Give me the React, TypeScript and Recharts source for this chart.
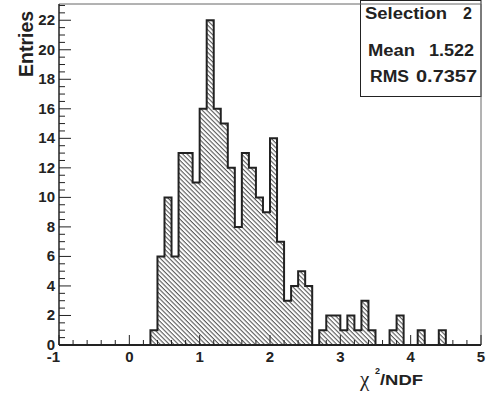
import { ComposedChart, Area, XAxis, YAxis, ReferenceLine, Customized } from 'recharts';

// histogram: 60 bins of width 0.1 from -1 to 5
const binStart = -1;
const binWidth = 0.1;
const counts = [
  0, 0, 0, 0, 0, 0, 0, 0, 0, 0, 0, 0, 0,
  1, 6, 10, 6, 13, 13, 11, 16, 22, 16, 15, 12, 8, 13, 12, 10, 9, 14, 7, 3, 4, 5, 4, 0,
  1, 2, 2, 1, 2, 1, 3, 1, 0, 0, 1, 2, 0, 0, 1, 0, 0, 1,
  0, 0, 0, 0, 0,
];

const xMajorTicks = [-1, 0, 1, 2, 3, 4, 5];
const yMajorTicks = [0, 2, 4, 6, 8, 10, 12, 14, 16, 18, 20, 22];
const xMinorStep = 0.2;
const yMinorStep = 0.5;

const statsTitle = ['Selection', '2'];
const statsMean = ['Mean', '1.522'];
const statsRms = ['RMS', '0.7357'];

const histData = [
  ...counts.map((n, i) => ({ x: +(binStart + i * binWidth).toFixed(1), n })),
  { x: 5, n: 0 },
];

const xTicks = Array.from({ length: 31 }, (_, i) => +(-1 + i * xMinorStep).toFixed(1));
const yTicks = Array.from({ length: 47 }, (_, i) => +(i * yMinorStep).toFixed(1));

const font = '"Liberation Sans", Arial, sans-serif';

const XTick = (props: any) => {
  const { x, y, payload } = props;
  const v = payload.value;
  const major = xMajorTicks.includes(v);
  return (
    <g>
      <line x1={x} x2={x} y1={y} y2={y - (major ? 10 : 5)} stroke="#222" strokeWidth={1} />
      {major && (
        <text
          x={v === -1 ? x + 1 : x}
          y={y + 17}
          textAnchor={v === -1 ? 'end' : 'middle'}
          fontFamily={font}
          fontWeight="bold"
          fontSize={15}
          fill="#222"
        >
          {v}
        </text>
      )}
    </g>
  );
};

const YTick = (props: any) => {
  const { x, y, payload } = props;
  const v = payload.value;
  const major = yMajorTicks.includes(v);
  return (
    <g>
      <line x1={x} x2={x + (major ? 12 : 6)} y1={y} y2={y} stroke="#222" strokeWidth={1} />
      {major && (
        <text x={x - 4} y={y + 5} textAnchor="end" fontFamily={font} fontWeight="bold" fontSize={15} fill="#222">
          {v}
        </text>
      )}
    </g>
  );
};

const Decorations = () => (
  <g fontFamily={font} fontWeight="bold" fill="#222">
    <text x={33} y={77} transform="rotate(-90 33 77)" fontSize={19.5}>
      Entries
    </text>
    <text x={360} y={386} fontFamily='"Liberation Serif", serif' fontWeight="normal" fontSize={21}>
      χ
    </text>
    <text x={375} y={374} fontSize={9}>
      2
    </text>
    <text x={380} y={385} fontSize={15} textLength={43} lengthAdjust="spacingAndGlyphs">
      /NDF
    </text>
    <rect x={360.5} y={0.5} width={120.5} height={96} fill="#fff" stroke="#222" strokeWidth={1} />
    <text x={365} y={18.5} fontSize={16} textLength={82} lengthAdjust="spacingAndGlyphs">
      {statsTitle[0]}
    </text>
    <text x={463} y={18.5} fontSize={16}>
      {statsTitle[1]}
    </text>
    <text x={368} y={55.5} fontSize={16} textLength={47} lengthAdjust="spacingAndGlyphs">
      {statsMean[0]}
    </text>
    <text x={429} y={56} fontSize={16} textLength={45} lengthAdjust="spacingAndGlyphs">
      {statsMean[1]}
    </text>
    <text x={370} y={81.5} fontSize={16} textLength={39} lengthAdjust="spacingAndGlyphs">
      {statsRms[0]}
    </text>
    <text x={416} y={81.5} fontSize={16} textLength={61} lengthAdjust="spacingAndGlyphs">
      {statsRms[1]}
    </text>
  </g>
);

export default function App() {
  return (
    <div style={{ position: 'absolute', left: 0, top: 0, background: '#fff' }}>
      <ComposedChart width={493} height={397} data={histData} margin={{ top: 4, right: 12, bottom: 0, left: 0 }}>
        <defs>
          <pattern id="hatch" patternUnits="userSpaceOnUse" width={3.2} height={3.2} patternTransform="rotate(-45)">
            <line x1={1} y1={0} x2={1} y2={3.2} stroke="#333" strokeWidth={0.9} />
          </pattern>
        </defs>
        <XAxis
          dataKey="x"
          type="number"
          domain={[-1, 5]}
          allowDataOverflow
          ticks={xTicks}
          interval={0}
          height={52}
          tickSize={0}
          tickMargin={0}
          tickLine={false}
          tick={<XTick />}
          axisLine={{ stroke: '#222', strokeWidth: 2 }}
        />
        <YAxis
          type="number"
          domain={[0, 23.1]}
          allowDataOverflow
          ticks={yTicks}
          interval={0}
          width={59}
          tickSize={0}
          tickMargin={0}
          tickLine={false}
          tick={<YTick />}
          axisLine={{ stroke: '#222', strokeWidth: 1.5 }}
        />
        <ReferenceLine y={23.1} stroke="#666" strokeWidth={1} />
        <ReferenceLine x={5} stroke="#666" strokeWidth={1} />
        <Area
          type="stepAfter"
          dataKey="n"
          stroke="#222"
          strokeWidth={2}
          fill="url(#hatch)"
          fillOpacity={1}
          dot={false}
          activeDot={false}
          isAnimationActive={false}
        />
        <Customized component={<Decorations />} />
      </ComposedChart>
    </div>
  );
}
